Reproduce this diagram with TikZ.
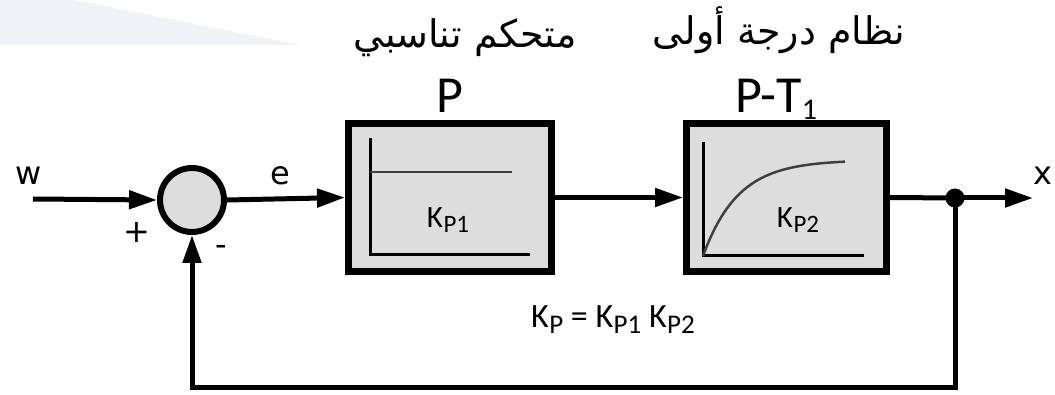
\documentclass[tikz,border=0pt]{standalone}
\usepackage{fontspec}
\setmainfont{DejaVu Sans}
\newfontfamily\arabicfont[Script=Arabic]{DejaVu Sans}
\newfontfamily\carl{Carlito}
\TeXXeTstate=1
\usetikzlibrary{arrows.meta}
\definecolor{bgc}{HTML}{F0F2F5}
\definecolor{blkfill}{HTML}{DDDDDD}
\newcommand{\Ksub}[3]{K\kern0.5pt\raisebox{#2}{\fontsize{#3}{#3}\selectfont #1}}
\begin{document}
\begin{tikzpicture}[x=1pt,y=-1pt,
  wire/.style={line width=5pt},
  arr/.style={wire,-{Triangle[length=28pt,width=18pt]}},
  blk/.style={draw,line width=7pt,fill=blkfill,minimum height=148pt,inner sep=0pt},
  sumc/.style={draw,circle,line width=6pt,fill=blkfill,minimum size=64pt,inner sep=0pt},
  lbl/.style={font=\fontsize{32}{32}\selectfont,inner sep=0pt,anchor=base},
  ttl/.style={font=\carl\fontsize{52}{52}\selectfont,inner sep=0pt,anchor=base},
  klbl/.style={font=\carl\fontsize{31}{31}\selectfont,inner sep=0pt,anchor=base},
  arlbl/.style={font=\arabicfont\fontsize{38}{38}\selectfont,inner sep=0pt,anchor=base},
  axis/.style={line width=3pt},
  curve/.style={line width=2.5pt,black!75}
]
\useasboundingbox (0,0) rectangle (1055,395);
\fill[bgc] (0,0) -- (75,0) -- (300,45) -- (0,45) -- cycle;

% nodes
\node[sumc] (sum) at (192,200) {};
\node[blk,minimum width=203pt] (b1) at (450,197.5) {};
\node[blk,minimum width=200pt] (b2) at (786.5,197.5) {};
\node[circle,fill=black,minimum size=19pt,inner sep=0pt] (jn) at (955,198) {};
\coordinate (win) at (33,199);
\coordinate (xout) at (1033,198);
\coordinate (fb) at (955,387);

% inner plots
\draw[axis] (370,138) -- (370,255) -- (530,255);
\draw[curve] (370,172) -- (512,172);
\draw[axis] (703,142) -- (703,256) -- (864,256);
\draw[curve] plot[domain=0:142,samples=60] ({703+\x},{256-96*(1-exp(-\x/35))});

% connectors
\draw[arr] (win) -- (sum.west);
\draw[arr] (sum.east) -- (b1.west);
\draw[arr] (b1.east) -- (b2.west);
\draw[wire] (b2.east) -- (jn.center);
\draw[arr] (jn.center) -- (xout);
\draw[arr] (jn.center) -- (fb) -| (sum.south);

% labels
\node[lbl] (lw) at (29,185) {w};
\node[lbl] (le) at (280,185) {e};
\node[lbl] (lx) at (1043,185) {x};
\node[lbl,anchor=center] (lplus) at (137,232) {+};
\node[lbl,anchor=center] (lminus) at (221,250) {-};

\node[ttl] (tP) at (449.5,113) {P};
\node[ttl,anchor=base west] (tPT) at (735,113) {P-T\raisebox{-7pt}{\fontsize{30}{30}\selectfont 1}};

\node[klbl] (k1) at (448,228) {\Ksub{P1}{-5pt}{25}};
\node[klbl] (k2) at (798,228) {\Ksub{P2}{-5pt}{25}};
\node[font=\carl\fontsize{34}{34}\selectfont,inner sep=0pt,anchor=base] (kf) at (613,327)
  {\Ksub{P}{-6pt}{27} = \Ksub{P1}{-6pt}{27} \Ksub{P2}{-6pt}{27}};

\node[arlbl] (ar1) at (465,48) {\beginR متحكم تناسبي\endR};
\node[arlbl] (ar2) at (779,45) {\beginR نظام درجة أولى\endR};
\end{tikzpicture}
\end{document}
